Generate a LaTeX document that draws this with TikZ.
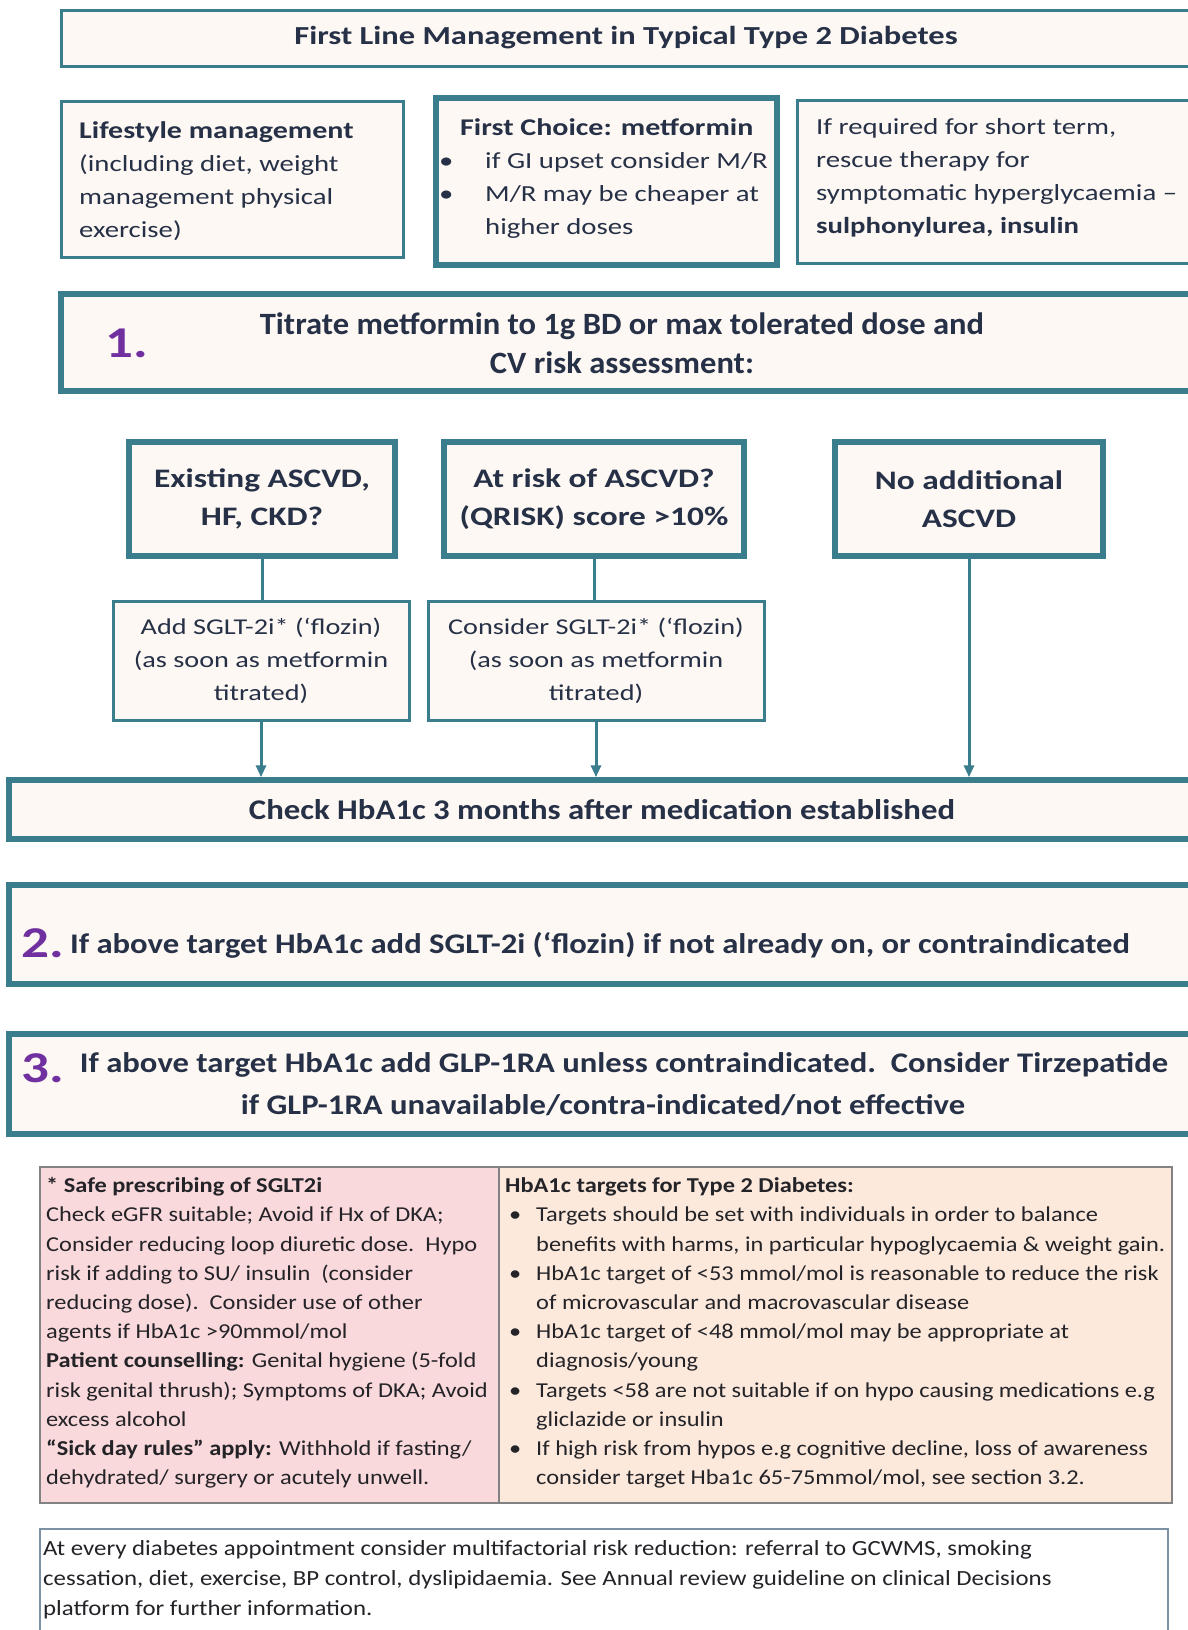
\documentclass[tikz,border=0pt]{standalone}
\usepackage{fontspec}
\setmainfont[FakeStretch=1.15]{Carlito}
\newfontfamily\fw[FakeStretch=1.25]{Carlito}
\newfontfamily\fn[FakeStretch=1.05]{Carlito}
\usetikzlibrary{arrows.meta}
\definecolor{tealc}{RGB}{58,125,140}
\definecolor{creamc}{RGB}{253,248,243}
\definecolor{navyc}{RGB}{38,48,70}
\definecolor{purplec}{RGB}{112,48,160}
\definecolor{pinkc}{RGB}{249,217,219}
\definecolor{peachc}{RGB}{252,233,220}
\definecolor{grayc}{RGB}{130,130,130}
\definecolor{notec}{RGB}{125,145,165}
\definecolor{inkc}{RGB}{35,35,40}
\newcommand\myfs[2]{\fontsize{#1}{#2}\selectfont}
\begin{document}
\begin{tikzpicture}[x=1pt,y=-1pt,
  box/.style={draw=tealc, fill=creamc, inner sep=0pt, text=navyc},
  thinb/.style={line width=3pt},
  thickb/.style={line width=5.5pt},
  heavyb/.style={line width=6pt},
  txt/.style={inner sep=0pt, text=navyc, align=left, anchor=west},
  ctxt/.style={inner sep=0pt, text=navyc, align=center},
  num/.style={inner sep=0pt, text=purplec, font=\fw\bfseries\myfs{44}{44}},
  conn/.style={draw=tealc, line width=3pt},
  arr/.style={conn, -{Triangle[length=12pt,width=10pt]}},
  cell/.style={draw=grayc, line width=1.5pt, inner sep=0pt},
]
\useasboundingbox (0,0) rectangle (1187,1630);
\fill[white] (0,0) rectangle (1187,1630);

% title
\node[box, thinb, minimum width=1130pt, minimum height=56pt, font=\fw\bfseries\myfs{26}{30}] (title) at (626,38) {First Line Management in Typical Type 2 Diabetes};

% top three boxes
\node[box, thinb, minimum width=342pt, minimum height=156pt] (life) at (232,179) {};
\node[txt, font=\fw\myfs{23}{33}] (lifet) at (79,181) {{\bfseries\myfs{24}{33}Lifestyle management}\\(including diet, weight\\management physical\\exercise)};

\node[box, thickb, minimum width=341pt, minimum height=167pt] (first) at (606.5,181.5) {};
\node[txt, font=\fw\myfs{23}{33}] (firstt) at (439,179) {{\bfseries\myfs{24}{33}\hspace*{21pt}First Choice: metformin}\\\makebox[46pt][l]{•}if GI upset consider M/R\\\makebox[46pt][l]{•}M/R may be cheaper at\\\hspace*{46pt}higher doses};

\node[box, thinb, minimum width=403pt, minimum height=163pt] (resc) at (998.5,181.5) {};
\node[txt, font=\fw\myfs{23}{33}] (resct) at (816,178) {If required for short term,\\rescue therapy for\\symptomatic hyperglycaemia –\\{\bfseries sulphonylurea, insulin}};

% step 1
\node[box, thickb, minimum width=1134pt, minimum height=97pt] (step1) at (628,342.5) {};
\node[num] (n1) at (127,343) {1.};
\node[ctxt, font=\fn\bfseries\myfs{31}{39}] (t1) at (622,343) {Titrate metformin to 1g BD or max tolerated dose and\\CV risk assessment:};

% CV risk boxes
\node[box, heavyb, minimum width=266pt, minimum height=114pt, align=center, font=\fw\bfseries\myfs{26.7}{38}] (exist) at (262,499) {Existing ASCVD,\\HF, CKD?};
\node[box, heavyb, minimum width=300pt, minimum height=114pt, align=center, font=\fw\bfseries\myfs{26.7}{38}] (risk) at (594,499) {At risk of ASCVD?\\(QRISK) score >10\%};
\node[box, heavyb, minimum width=268pt, minimum height=114pt, align=center, font=\fw\bfseries\myfs{26.7}{38}] (noadd) at (969,499) {No additional\\ASCVD};

% SGLT boxes
\node[box, thinb, minimum width=296pt, minimum height=119pt, align=center, font=\fw\myfs{22.6}{33}] (add) at (261,660.5) {Add SGLT-2i* (‘flozin)\\(as soon as metformin\\titrated)};
\node[box, thinb, minimum width=336pt, minimum height=119pt, align=center, font=\fw\myfs{22.6}{33}] (cons) at (596,660.5) {Consider SGLT-2i* (‘flozin)\\(as soon as metformin\\titrated)};

% check box
\node[box, thickb, minimum width=1186pt, minimum height=59pt, font=\bfseries\myfs{28.5}{33}] (check) at (602,809.5) {Check HbA1c 3 months after medication established};

% connectors
\draw[conn] (exist.south) -- (exist.south |- add.north);
\draw[conn] (risk.south) -- (risk.south |- cons.north);
\draw[arr] (add.south) -- (add.south |- check.north);
\draw[arr] (cons.south) -- (cons.south |- check.north);
\draw[arr] (noadd.south) -- (noadd.south |- check.north);

% step 2
\node[box, heavyb, minimum width=1186pt, minimum height=99pt] (step2) at (602,934.5) {};
\node[num] (n2) at (43,943) {2.};
\node[ctxt, font=\bfseries\myfs{28.4}{34}] (t2) at (600,945) {If above target HbA1c add SGLT-2i (‘flozin) if not already on, or contraindicated};

% step 3
\node[box, heavyb, minimum width=1186pt, minimum height=100pt] (step3) at (602,1084) {};
\node[num] (n3) at (43,1068) {3.};
\node[ctxt, font=\bfseries\myfs{28.4}{34}] (t3a) at (624,1065) {If above target HbA1c add GLP-1RA unless contraindicated.\ \ Consider Tirzepatide};
\node[ctxt, font=\bfseries\myfs{28.4}{34}] (t3b) at (603,1105) {if GLP-1RA unavailable/contra-indicated/not effective};

% table
\node[cell, fill=pinkc, minimum width=459pt, minimum height=336pt] (safe) at (269.5,1335) {};
\node[cell, fill=peachc, minimum width=673pt, minimum height=336pt] (targ) at (835.5,1335) {};
\node[txt, text=inkc, font=\myfs{21.2}{29.2}] (safet) at (46,1333) {{\bfseries * Safe prescribing of SGLT2i}\\
Check eGFR suitable; Avoid if Hx of DKA;\\
Consider reducing loop diuretic dose.\ \ Hypo\\
risk if adding to SU/ insulin\ \ (consider\\
reducing dose).\ \ Consider use of other\\
agents if HbA1c >90mmol/mol\\
{\bfseries Patient counselling:} Genital hygiene (5-fold\\
risk genital thrush); Symptoms of DKA; Avoid\\
excess alcohol\\
{\bfseries “Sick day rules” apply:} Withhold if fasting/\\
dehydrated/ surgery or acutely unwell.};
\node[txt, text=inkc, font=\myfs{21.2}{29.2}] (targt) at (505,1333) {{\bfseries HbA1c targets for Type 2 Diabetes:}\\
\hspace*{4pt}\makebox[27pt][l]{•}Targets should be set with individuals in order to balance\\
\hspace*{31pt}benefits with harms, in particular hypoglycaemia \& weight gain.\\
\hspace*{4pt}\makebox[27pt][l]{•}HbA1c target of <53 mmol/mol is reasonable to reduce the risk\\
\hspace*{31pt}of microvascular and macrovascular disease\\
\hspace*{4pt}\makebox[27pt][l]{•}HbA1c target of <48 mmol/mol may be appropriate at\\
\hspace*{31pt}diagnosis/young\\
\hspace*{4pt}\makebox[27pt][l]{•}Targets <58 are not suitable if on hypo causing medications e.g\\
\hspace*{31pt}gliclazide or insulin\\
\hspace*{4pt}\makebox[27pt][l]{•}If high risk from hypos e.g cognitive decline, loss of awareness\\
\hspace*{31pt}consider target Hba1c 65-75mmol/mol, see section 3.2.};

% bottom note
\node[draw=notec, line width=1.5pt, fill=white, inner sep=0pt, minimum width=1128pt, minimum height=116pt] (note) at (604,1587) {};
\node[txt, anchor=north west, text=inkc, font=\myfs{21.6}{30}] (notet) at (43,1540) {At every diabetes appointment consider multifactorial risk reduction: referral to GCWMS, smoking\\
cessation, diet, exercise, BP control, dyslipidaemia. See Annual review guideline on clinical Decisions\\
platform for further information.};
\end{tikzpicture}
\end{document}
